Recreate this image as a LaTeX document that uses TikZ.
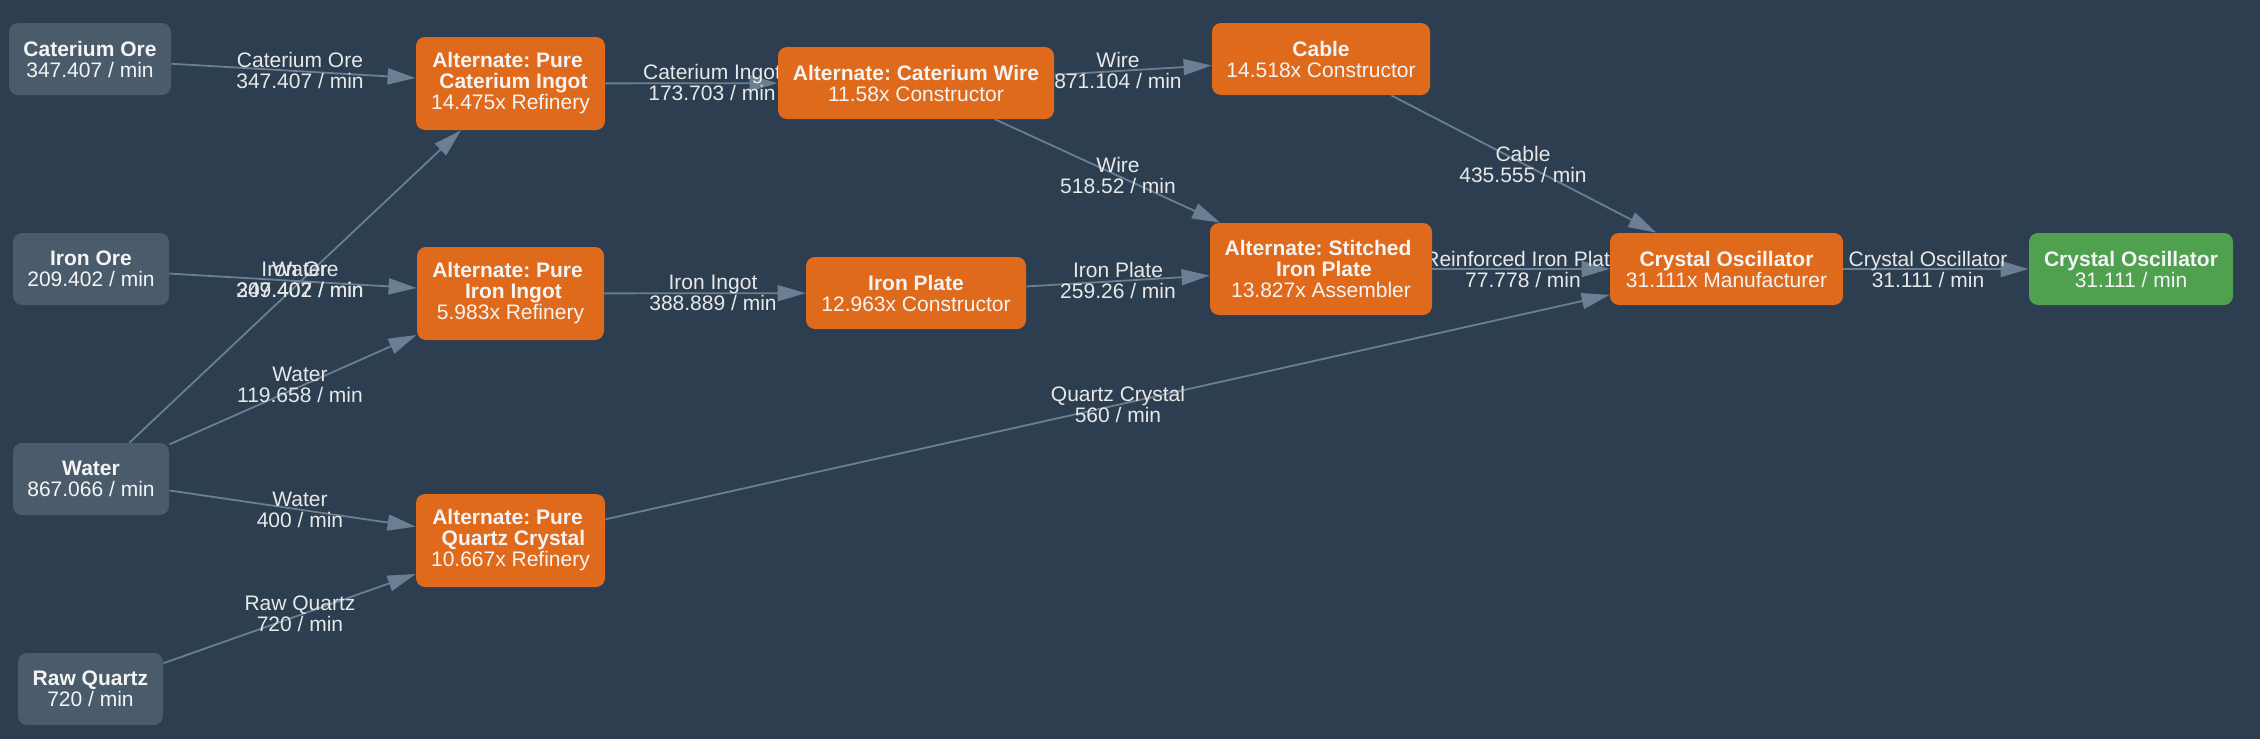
\documentclass[tikz,border=0pt]{standalone}
\usepackage{fontspec}
\setmainfont{Liberation Sans}
\usetikzlibrary{arrows.meta}
\definecolor{bgc}{HTML}{2C3E50}
\definecolor{srcc}{HTML}{4A5B6C}
\definecolor{recc}{HTML}{E06A1C}
\definecolor{outc}{HTML}{4FA04F}
\definecolor{edgec}{HTML}{6C7F92}
\definecolor{txtc}{HTML}{F4F4F4}
\definecolor{lblc}{HTML}{E8E8E8}
\pgfdeclarelayer{backlayer}
\pgfdeclarelayer{edgelayer}
\pgfsetlayers{backlayer,edgelayer,main}
\frenchspacing
\begin{document}
\begin{tikzpicture}[x=0.5pt,y=-0.5pt,
  box/.style={rounded corners=4.5pt, inner sep=0pt, align=center, text=txtc, font=\fontsize{10.5}{10.5}\selectfont\frenchspacing},
  src/.style={box, fill=srcc},
  rec/.style={box, fill=recc},
  outn/.style={box, fill=outc},
  flow/.style={draw=edgec, line width=0.9pt, -{Triangle[length=14pt,width=8pt]}},
  lbl/.style={text=lblc, align=center, inner sep=0pt, font=\fontsize{10.5}{10.5}\selectfont\frenchspacing}
]
\useasboundingbox (0,0) rectangle (2260,739);
\begin{pgfonlayer}{backlayer}
\fill[bgc] (0,0) rectangle (2260,739);
\end{pgfonlayer}

% nodes
\node[src, minimum width=81pt, minimum height=36pt] (catore) at (90,59) {\textbf{Caterium Ore}\\347.407 / min};
\node[src, minimum width=78pt, minimum height=36pt] (ironore) at (91,269) {\textbf{Iron Ore}\\209.402 / min};
\node[src, minimum width=78pt, minimum height=36pt] (water) at (91,479) {\textbf{Water}\\867.066 / min};
\node[src, minimum width=72.5pt, minimum height=36pt] (rawq) at (90.5,689) {\textbf{Raw Quartz}\\720 / min};
\node[rec, minimum width=94.5pt, minimum height=46.5pt] (catingot) at (510.5,83.5) {\textbf{Alternate: Pure\hspace*{.28em}}\\\textbf{\hspace*{.28em}Caterium Ingot}\\14.475x Refinery};
\node[rec, minimum width=93.5pt, minimum height=46.5pt] (ironingot) at (510.5,293.5) {\textbf{Alternate: Pure\hspace*{.28em}}\\\textbf{\hspace*{.28em}Iron Ingot}\\5.983x Refinery};
\node[rec, minimum width=94.5pt, minimum height=46.5pt] (quartz) at (510.5,540.5) {\textbf{Alternate: Pure\hspace*{.28em}}\\\textbf{\hspace*{.28em}Quartz Crystal}\\10.667x Refinery};
\node[rec, minimum width=138pt, minimum height=36pt] (catwire) at (916,83) {\textbf{Alternate: Caterium Wire}\\11.58x Constructor};
\node[rec, minimum width=110pt, minimum height=36pt] (ironplate) at (916,293) {\textbf{Iron Plate}\\12.963x Constructor};
\node[rec, minimum width=109pt, minimum height=36pt] (cable) at (1321,59) {\textbf{Cable}\\14.518x Constructor};
\node[rec, minimum width=111pt, minimum height=46pt] (stitched) at (1321,269) {\textbf{Alternate: Stitched\hspace*{.28em}}\\\textbf{\hspace*{.28em}Iron Plate}\\13.827x Assembler};
\node[rec, minimum width=116.5pt, minimum height=36pt] (crystal) at (1726.5,269) {\textbf{Crystal Oscillator}\\31.111x Manufacturer};
\node[outn, minimum width=102pt, minimum height=36pt] (final) at (2131,269) {\textbf{Crystal Oscillator}\\31.111 / min};

\begin{pgfonlayer}{edgelayer}
\draw[flow] (catore) -- (catingot);
\draw[flow] (catingot) -- (catwire);
\draw[flow] (water) -- (catingot);
\draw[flow] (ironore) -- (ironingot);
\draw[flow] (water) -- (ironingot);
\draw[flow] (water) -- (quartz);
\draw[flow] (rawq) -- (quartz);
\draw[flow] (ironingot) -- (ironplate);
\draw[flow] (catwire) -- (cable);
\draw[flow] (catwire) -- (stitched);
\draw[flow] (ironplate) -- (stitched);
\draw[flow] (cable) -- (crystal);
\draw[flow] (stitched) -- (crystal);
\draw[flow] (quartz) -- (crystal);
\draw[flow] (crystal) -- (final);

\node[lbl] (l1) at (300,70) {Caterium Ore\\347.407 / min};
\node[lbl] (l2) at (712,82) {Caterium Ingot\\173.703 / min};
\node[lbl] (l3) at (300,280) {Water\\347.407 / min};
\node[lbl] (l4) at (300,280) {Iron Ore\\209.402 / min};
\node[lbl] (l5) at (300,385) {Water\\119.658 / min};
\node[lbl] (l6) at (300,510) {Water\\400 / min};
\node[lbl] (l7) at (300,614) {Raw Quartz\\720 / min};
\node[lbl] (l8) at (713,293) {Iron Ingot\\388.889 / min};
\node[lbl] (l9) at (1118,70) {Wire\\871.104 / min};
\node[lbl] (l10) at (1118,175) {Wire\\518.52 / min};
\node[lbl] (l11) at (1118,280) {Iron Plate\\259.26 / min};
\node[lbl] (l12) at (1523,164) {Cable\\435.555 / min};
\node[lbl] (l13) at (1523,269) {Reinforced Iron Plate\\77.778 / min};
\node[lbl] (l14) at (1118,404) {Quartz Crystal\\560 / min};
\node[lbl] (l15) at (1928,269) {Crystal Oscillator\\31.111 / min};
\end{pgfonlayer}
\end{tikzpicture}
\end{document}
